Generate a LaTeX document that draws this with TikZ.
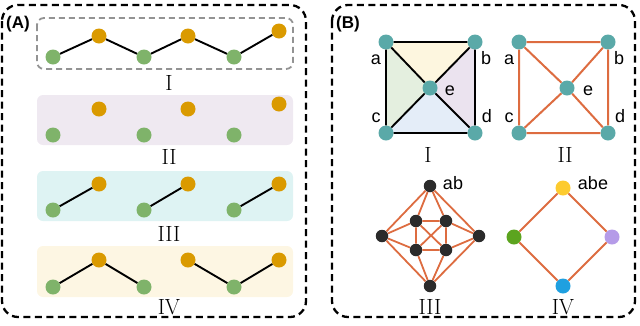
\documentclass[tikz,border=0pt]{standalone}
\usepackage{fontspec}
\newfontfamily\lsans{Liberation Sans}
\usetikzlibrary{backgrounds}
\definecolor{gnode}{HTML}{7FB36A}
\definecolor{onode}{HTML}{DA9A00}
\definecolor{tnode}{HTML}{5AA9A8}
\definecolor{oedge}{HTML}{DD6C40}
\definecolor{knode}{HTML}{2B2B2B}
\definecolor{ynode}{HTML}{FDCB2F}
\definecolor{lgnode}{HTML}{5CA41F}
\definecolor{pnode}{HTML}{B59BE8}
\definecolor{bnode}{HTML}{1FA0E0}
\definecolor{fy}{HTML}{FDF6DF}
\definecolor{fg}{HTML}{E4EFDF}
\definecolor{fp}{HTML}{EBE3EF}
\definecolor{fb}{HTML}{E4EDF8}
\definecolor{boxp}{HTML}{EFE9F1}
\definecolor{boxc}{HTML}{DEF3F3}
\definecolor{boxy}{HTML}{FDF6E3}
\tikzset{
  dot/.style={circle,inner sep=0pt,minimum size=15pt,fill=#1},
  kdot/.style={circle,inner sep=0pt,minimum size=12.5pt,fill=knode},
  blk/.style={line width=1.9pt,black},
  org/.style={line width=2pt,oedge},
  outer/.style={dashed,line width=2.3pt,dash pattern=on 7pt off 4.5pt,rounded corners=16pt},
  rowbox/.style={rounded corners=6pt,fill=#1},
  roman/.style={font=\fontsize{22}{22}\selectfont},
  sl/.style={font=\lsans\fontsize{18}{18}\selectfont,inner sep=0pt},
  panel/.style={font=\lsans\bfseries\fontsize{17}{17}\selectfont,inner sep=0pt}
}
\begin{document}
\begin{tikzpicture}[x=1pt,y=-1pt]
\useasboundingbox (0,0) rectangle (640,325);
% panel A
\draw[outer] (2,5) rectangle (306,317);
\node[panel] (pa) at (18,24) {(A)};
\draw[dashed,line width=1.8pt,gray!85,dash pattern=on 6pt off 4pt,rounded corners=7pt] (37,18) rectangle (293,69);
\fill[rowbox=boxp] (37,95) rectangle (293,145);
\fill[rowbox=boxc] (37,171) rectangle (293,221);
\fill[rowbox=boxy] (37,246) rectangle (293,297);
% row I
\node[dot=gnode] (g11) at (53,57) {};
\node[dot=onode] (o11) at (99,36) {};
\node[dot=gnode] (g12) at (144,57) {};
\node[dot=onode] (o12) at (188,36) {};
\node[dot=gnode] (g13) at (234,57) {};
\node[dot=onode] (o13) at (279,31) {};
\draw[blk] (g11)--(o11)--(g12)--(o12)--(g13)--(o13);
\node[roman] (l1) at (169,83) {I};
% row II
\node[dot=onode] (o21) at (99,109) {};
\node[dot=onode] (o22) at (188,109) {};
\node[dot=onode] (o23) at (279,104) {};
\node[dot=gnode] (g21) at (53,135) {};
\node[dot=gnode] (g22) at (144,135) {};
\node[dot=gnode] (g23) at (234,135) {};
\node[roman] (l2) at (169,157) {II};
% row III
\node[dot=onode] (o31) at (99,184) {};
\node[dot=onode] (o32) at (188,184) {};
\node[dot=onode] (o33) at (279,184) {};
\node[dot=gnode] (g31) at (53,210) {};
\node[dot=gnode] (g32) at (144,210) {};
\node[dot=gnode] (g33) at (234,210) {};
\draw[blk] (g31)--(o31) (g32)--(o32) (g33)--(o33);
\node[roman] (l3) at (169,234) {III};
% row IV
\node[dot=gnode] (g41) at (53,287) {};
\node[dot=onode] (o41) at (99,260) {};
\node[dot=gnode] (g42) at (144,287) {};
\node[dot=onode] (o42) at (188,260) {};
\node[dot=gnode] (g43) at (234,287) {};
\node[dot=onode] (o43) at (279,260) {};
\draw[blk] (g41)--(o41)--(g42) (o42)--(g43)--(o43);
\node[roman] (l4) at (169,307) {IV};
% panel B
\draw[outer] (332,5) rectangle (635,317);
\node[panel] (pb) at (348,24) {(B)};
% graph I
\node[dot=tnode] (a1) at (386,42) {};
\node[dot=tnode] (b1) at (475,42) {};
\node[dot=tnode] (c1) at (386,133) {};
\node[dot=tnode] (d1) at (475,133) {};
\node[dot=tnode] (e1) at (430,88) {};
\begin{scope}[on background layer]
\fill[fy] (a1.center)--(b1.center)--(e1.center)--cycle;
\fill[fg] (a1.center)--(c1.center)--(e1.center)--cycle;
\fill[fp] (b1.center)--(d1.center)--(e1.center)--cycle;
\fill[fb] (c1.center)--(d1.center)--(e1.center)--cycle;
\end{scope}
\draw[blk] (a1)--(b1) (b1)--(d1) (d1)--(c1) (c1)--(a1) (a1)--(e1) (b1)--(e1) (c1)--(e1) (d1)--(e1);
\node[sl] (ta1) at (376,60) {a};
\node[sl] (tb1) at (486,58) {b};
\node[sl] (tc1) at (376,118) {c};
\node[sl] (td1) at (487,116) {d};
\node[sl] (te1) at (450,91) {e};
\node[roman] (r1) at (428,155) {I};
% graph II
\node[dot=tnode] (a2) at (519,42) {};
\node[dot=tnode] (b2) at (608,42) {};
\node[dot=tnode] (c2) at (519,133) {};
\node[dot=tnode] (d2) at (608,133) {};
\node[dot=tnode] (e2) at (567,88) {};
\draw[org] (a2)--(b2) (b2)--(d2) (d2)--(c2) (c2)--(a2) (a2)--(e2) (b2)--(e2) (c2)--(e2) (d2)--(e2);
\node[sl] (ta2) at (509,60) {a};
\node[sl] (tb2) at (619,58) {b};
\node[sl] (tc2) at (509,118) {c};
\node[sl] (td2) at (620,116) {d};
\node[sl] (te2) at (588,91) {e};
\node[roman] (r2) at (565,155) {II};
% graph III
\node[kdot] (ab) at (430,186) {};
\node[kdot] (ac) at (382,236) {};
\node[kdot] (bd) at (479,236) {};
\node[kdot] (cd) at (430,286) {};
\node[kdot] (ae) at (416,221) {};
\node[kdot] (be) at (446,221) {};
\node[kdot] (ce) at (416,250) {};
\node[kdot] (de) at (446,250) {};
\draw[org,line width=1.8pt] (ab)--(ac) (ab)--(bd) (ab)--(ae) (ab)--(be)
  (cd)--(ac) (cd)--(bd) (cd)--(ce) (cd)--(de)
  (ac)--(ae) (ac)--(ce) (bd)--(be) (bd)--(de)
  (ae)--(be) (ce)--(de) (ae)--(ce) (be)--(de) (ae)--(de) (be)--(ce);
\node[sl] (tab) at (453,183) {ab};
\node[roman] (r3) at (430,307) {III};
% graph IV
\node[dot=ynode] (y4) at (563,188) {};
\node[dot=lgnode] (g4) at (514,237) {};
\node[dot=pnode] (p4) at (612,237) {};
\node[dot=bnode] (bl4) at (563,286) {};
\draw[org] (y4)--(g4)--(bl4)--(p4)--(y4);
\node[sl] (tabe) at (593,183) {abe};
\node[roman] (r4) at (563,307) {IV};
\end{tikzpicture}
\end{document}
